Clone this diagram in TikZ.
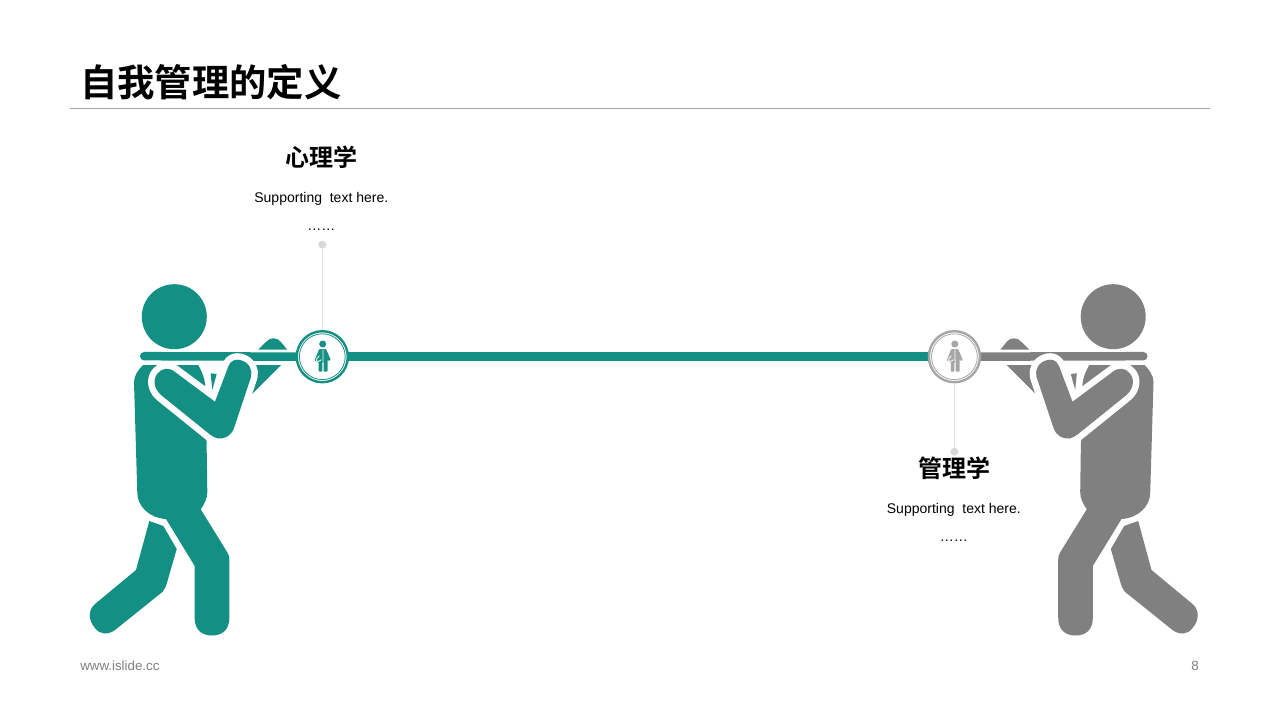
\documentclass[tikz,border=0pt]{standalone}
\usepackage{fontspec}
\setmainfont{Liberation Sans}
\newfontfamily\cjk{Noto Sans CJK SC}[BoldFont={Noto Sans CJK SC Bold}]
\definecolor{teal1}{HTML}{148F83}
\definecolor{gray1}{HTML}{808080}
\definecolor{gray2}{HTML}{A6A6A6}
\definecolor{dotc}{HTML}{D9D9D9}
\definecolor{linec}{HTML}{E3E3E3}
\definecolor{footc}{HTML}{7F7F7F}
\tikzset{
  titletext/.style={font=\cjk\bfseries\fontsize{28}{34}\selectfont,anchor=west,inner sep=0pt,text=black},
  headtext/.style={font=\cjk\bfseries\fontsize{18}{22}\selectfont,inner sep=0pt,text=black},
  subtext/.style={font=\fontsize{10.5}{13}\selectfont,inner sep=0pt,text=black},
  foot/.style={font=\fontsize{10}{12}\selectfont,inner sep=0pt,text=footc},
  ringnode/.style={circle,inner sep=0pt,minimum size=51*0.75pt,fill=white,line width=2.4*0.75pt,draw=#1},
  dotnode/.style={circle,inner sep=0pt,minimum size=8*0.75pt,fill=dotc},
  leader/.style={draw=linec,line width=1.2*0.75pt},
  polebar/.style={line width=8.5*0.75pt,draw=#1},
  cutout/.style={preaction={draw=white,line width=#1*0.75pt,line join=round}}
}
% the parts of a stick figure that lie under the pole
\newcommand{\stickbody}[1]{%
  \fill[#1] (149.3,521) -- (163.3,526) -- (176.7,549) -- (167.3,581.7) .. controls (166,586) and (165,589) .. (162.7,591.7)
     -- (115,630) .. controls (108,635) and (100,635) .. (95,628) .. controls (88,620) and (88,610) .. (95,604) -- (136,570) -- cycle;
  \fill[#1,cutout=8] (143,365) -- (198.3,365) .. controls (202,372) and (205,378) .. (205.3,388)
     -- (206.7,450) -- (207.3,491.7) .. controls (207.5,498) and (204.5,504) .. (200.7,509.3)
     -- (226.5,551) .. controls (228.5,554) and (229.3,556) .. (229.3,560) -- (229.3,618)
     .. controls (229.3,630) and (222,635.5) .. (212,635.5) .. controls (202,635.5) and (194.7,630) .. (194.7,618)
     -- (194.7,566) -- (166,519) .. controls (149,518) and (137.5,506) .. (137.3,493)
     -- (134,382) .. controls (134,376) and (138,370) .. (143,365) -- cycle;
  \fill[#1] (174.3,316.7) circle[radius=32.5];
  \fill[#1] (210.7,373.3) -- (216.7,374) -- (212.3,390) -- cycle;
  \fill[#1] (258.3,349.5) -- (266,342) .. controls (270,337) and (277,337) .. (281,342) -- (287,349.5) -- cycle;
  \fill[#1] (248,365) -- (281,365) -- (248,398) -- cycle;
}
% the near arm, which lies over the pole
\newcommand{\stickarm}[1]{%
  \fill[#1,cutout=13] (215,401.7) -- (228.5,366) .. controls (231,360) and (236,359) .. (240,360)
     .. controls (249,362) and (253,370) .. (251,377) -- (234,428) .. controls (231,436) and (225,439) .. (218,438.5)
     .. controls (215,438) and (212,436) .. (210,434.5) -- (161,395) .. controls (153,388) and (153,378) .. (158,373)
     .. controls (162,368) and (169,367) .. (175,372) -- cycle;
}
% small person icon inside a ring
\newcommand{\personicon}[2]{%
  \begin{scope}[shift={(#1)}]
    \fill[#2] (0.4,-12.7) circle[radius=3.5];
    \fill[#2,rounded corners=0.8*0.75pt] (-3.2,-7.6) -- (3.8,-7.6) -- (8.4,3.2) -- (5.9,4.4) -- (5.2,1) -- (5.2,15)
       -- (1.3,15) -- (1.3,5) -- (0,5) -- (0,15) -- (-3.6,15) -- (-3.6,5.5) -- (-7.8,4) -- cycle;
    \draw[white,line width=0.8*0.75pt] (0.6,-7.4) -- (0.7,5);
    \draw[white,line width=0.8*0.75pt] (-3,-1) .. controls (-5,2) and (-6.5,2) .. (-6,4) .. controls (-5,5.5) and (-3,5) .. (-1,3);
  \end{scope}%
}
\begin{document}
\begin{tikzpicture}[x=0.75pt,y=-0.75pt]
\useasboundingbox (0,0) rectangle (1280,720);
\fill[white] (0,0) rectangle (1280,720);

% title
\node[titletext] (title) at (80,82) {自我管理的定义};
\coordinate (ruleL) at (70,108.5);
\coordinate (ruleR) at (1210,108.5);
\draw[gray2,line width=0.75pt] (ruleL) -- (ruleR);

% anchor points of the rope
\coordinate (c1) at (322.3,356.7);
\coordinate (c2) at (954.4,356.7);
\coordinate (poleL) at (144.2,356.2);
\coordinate (poleR) at (1143.3,356.2);

\stickbody{teal1}
\begin{scope}[shift={(1287.5,0)},xscale=-1]
  \stickbody{gray1}
\end{scope}

\draw[polebar=teal1,line cap=round] (poleL) -- (c1);
\draw[polebar=teal1] (c1) -- (c2);
\draw[polebar=gray1,line cap=round] (poleR) -- (c2);

\stickarm{teal1}
\begin{scope}[shift={(1287.5,0)},xscale=-1]
  \stickarm{gray1}
\end{scope}

% leaders
\node[dotnode] (d1) at (322.3,244.7) {};
\node[dotnode] (d2) at (954.4,451.7) {};
\node[ringnode=teal1] (r1) at (c1) {};
\node[ringnode=gray2] (r2) at (c2) {};
\draw[leader] (d1) -- (r1);
\draw[leader] (d2) -- (r2);
\draw[teal1,line width=0.8*0.75pt] (c1) circle[radius=22.9];
\draw[gray2,line width=0.8*0.75pt] (c2) circle[radius=22.9];
\personicon{c1}{teal1}
\personicon{c2}{gray2}

% labels
\node[headtext] (h1) at (321.7,157.5) {心理学};
\node[subtext] (s1) at (321.3,198.5) {Supporting\ \ text here.};
\node[subtext] (e1) at (321.3,230) {……};
\node[headtext] (h2) at (954.3,468) {管理学};
\node[subtext] (s2) at (953.8,509.5) {Supporting\ \ text here.};
\node[subtext] (e2) at (953.8,540.5) {……};

% footer
\node[foot,anchor=west] (f1) at (80,666) {www.islide.cc};
\node[foot,anchor=east] (f2) at (1199,666) {8};
\end{tikzpicture}
\end{document}
